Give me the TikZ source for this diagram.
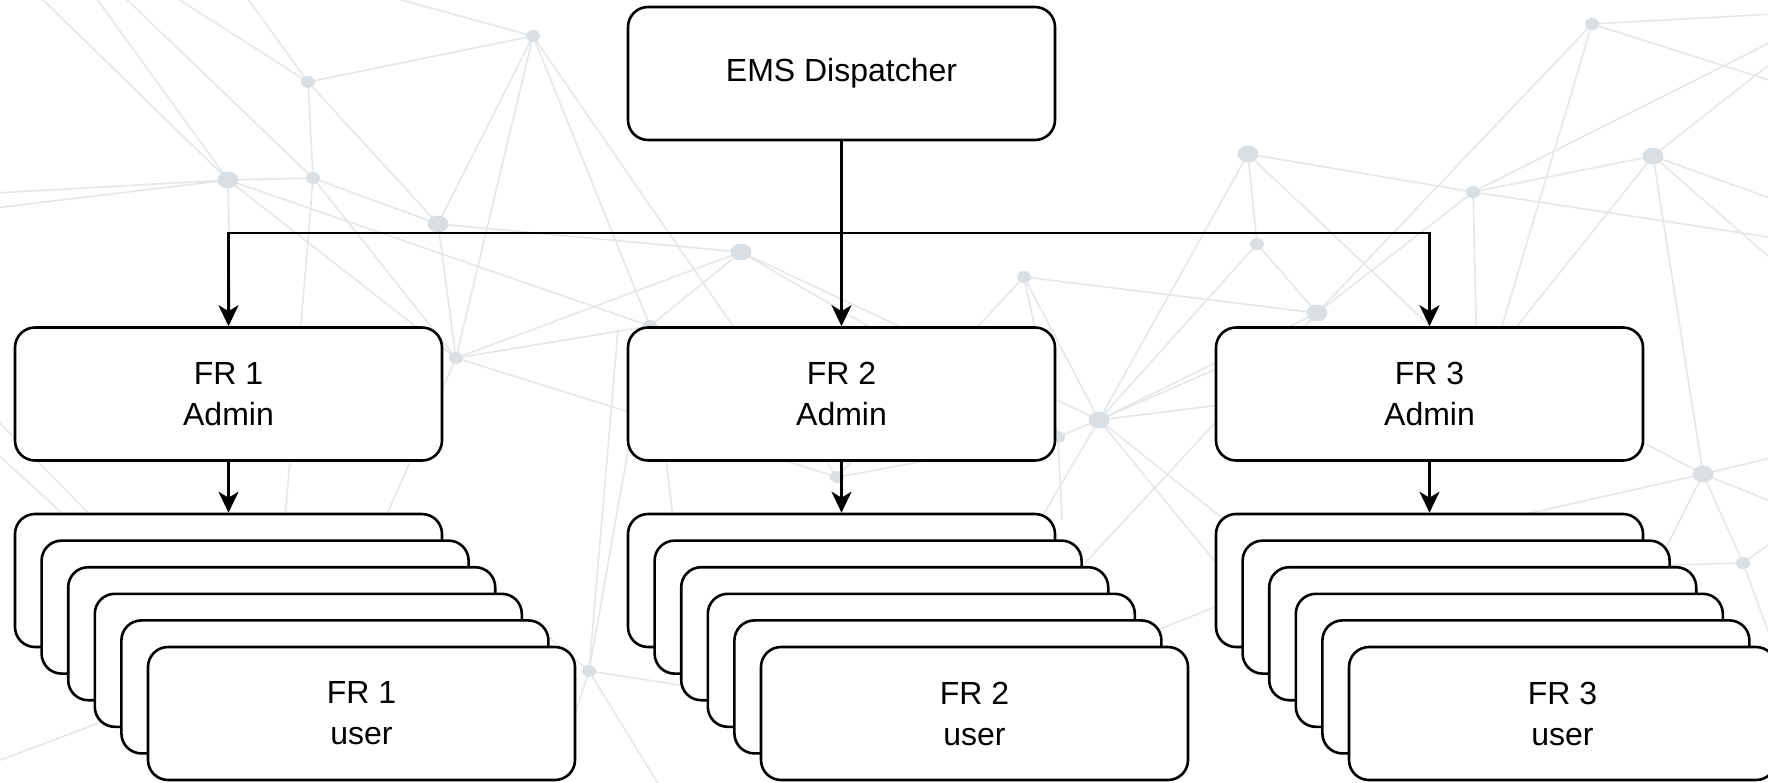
\documentclass[tikz,border=0pt]{standalone}
\usepackage{fontspec}
\setmainfont{Liberation Sans}
\usetikzlibrary{arrows.meta}
\definecolor{netline}{RGB}{227,231,235}
\definecolor{netdot}{RGB}{218,223,228}
\begin{document}
\begin{tikzpicture}[x=1pt,y=-1pt,
  box/.style={draw=black, line width=2.6pt, fill=white, rounded corners=20pt,
    minimum width=427pt, minimum height=133pt, inner sep=0pt, align=center,
    font=\fontsize{32}{41}\selectfont},
  arr/.style={draw=black, line width=2.6pt, -{Stealth[length=21pt,width=20pt,inset=6pt]}},
  net/.style={draw=netline, line width=1.5pt},
  bigdot/.style={fill=netdot},
]
\useasboundingbox (0,0) rectangle (1768,782);
\clip (0,0) rectangle (1768,782);
\fill[white] (0,0) rectangle (1768,782);

% background network
\coordinate (n1) at (533,36);
\coordinate (n2) at (308,82);
\coordinate (n3) at (228,180);
\coordinate (n4) at (313,178);
\coordinate (n5) at (438,224);
\coordinate (n6) at (741,252);
\coordinate (n7) at (456,358);
\coordinate (n8) at (650,326);
\coordinate (n9) at (1024,277);
\coordinate (n10) at (1099,420);
\coordinate (n11) at (1248,154);
\coordinate (n12) at (1257,244);
\coordinate (n13) at (1317,313);
\coordinate (n14) at (1473,192);
\coordinate (n15) at (1592,24);
\coordinate (n16) at (1653,156);
\coordinate (n17) at (1703,474);
\coordinate (n18) at (1743,563);
\coordinate (n19) at (589,671);
\coordinate (n20) at (837,477);
\coordinate (n21) at (1058,437);

\foreach \a/\b in {n2/n1, n2/n4, n2/n5, n1/n5, n1/n7, n1/n8, n1/n20, n3/n4, n3/n8, n3/n7,
  n4/n5, n4/n7, n5/n6, n5/n7, n7/n6, n7/n8, n7/n20, n6/n8, n6/n10, n6/n21, n8/n19,
  n9/n20, n9/n21, n9/n10, n9/n13, n10/n21, n10/n11, n10/n12, n10/n13, n21/n20,
  n11/n14, n11/n12, n12/n13, n13/n14, n13/n15, n14/n16, n16/n17, n17/n18}
  \draw[net] (\a) -- (\b);

\draw[net] (38,-5) -- (n3) (94,-5) -- (n3) (122,-5) -- (n4) (172,-5) -- (n2)
  (245,-5) -- (n2) (383,-5) -- (n1) (-5,193) -- (n3) (-5,208) -- (n3)
  (n3) -- (232,400) (n4) -- (285,520) (n7) -- (380,530) (n8) -- (690,660)
  (n19) -- (618,330) (n19) -- (540,630) (n19) -- (680,685) (n19) -- (662,790)
  (n19) -- (560,760) (-5,418) -- (100,525) (-5,452) -- (75,525) (-5,762) -- (160,700)
  (n10) -- (1260,350) (n10) -- (1260,400) (n10) -- (1040,520) (n10) -- (1250,540)
  (n10) -- (1230,580) (n21) -- (1062,520) (n13) -- (1060,590) (1240,597) -- (1150,633)
  (n11) -- (1450,345) (n15) -- (1775,14) (n15) -- (1775,82) (n15) -- (1480,400)
  (n14) -- (1775,40) (n14) -- (1775,238) (n14) -- (1478,400) (n16) -- (1775,60)
  (n16) -- (1775,200) (n16) -- (1775,262) (n16) -- (1470,385) (n17) -- (1600,420)
  (n17) -- (1775,457) (n17) -- (1500,520) (n17) -- (1775,503) (n17) -- (1640,600)
  (n18) -- (1670,565) (n18) -- (1775,540) (n18) -- (1775,650);

\foreach \n in {n3,n5,n6,n10,n11,n13,n16,n17}
  \fill[netdot] (\n) ellipse (10.5pt and 8.5pt);
\foreach \n in {n1,n2,n4,n7,n8,n9,n12,n14,n15,n18,n19,n20,n21}
  \fill[netdot] (\n) ellipse (7pt and 6pt);

% main diagram
\node[box] (disp) at (841.5,73.5) {EMS Dispatcher};
\coordinate (bus) at (841.5,233);

\foreach \c/\X in {1/228.5, 2/841.5, 3/1429.5} {
  \node[box] (a\c) at (\X,394) {FR \c\\Admin};
  \foreach \k in {0,...,4}
    \node[box] (s\c-\k) at ({\X+26.6*\k},{580.5+26.6*\k}) {};
  \node[box] (s\c-5) at ({\X+133},713.5) {FR \c\\user};
  \draw[arr] (a\c.south) -- (s\c-0.north);
}

\draw[arr] (disp.south) -- (a2.north);
\draw[arr] (bus) -| (a1.north);
\draw[arr] (bus) -| (a3.north);
\end{tikzpicture}
\end{document}
